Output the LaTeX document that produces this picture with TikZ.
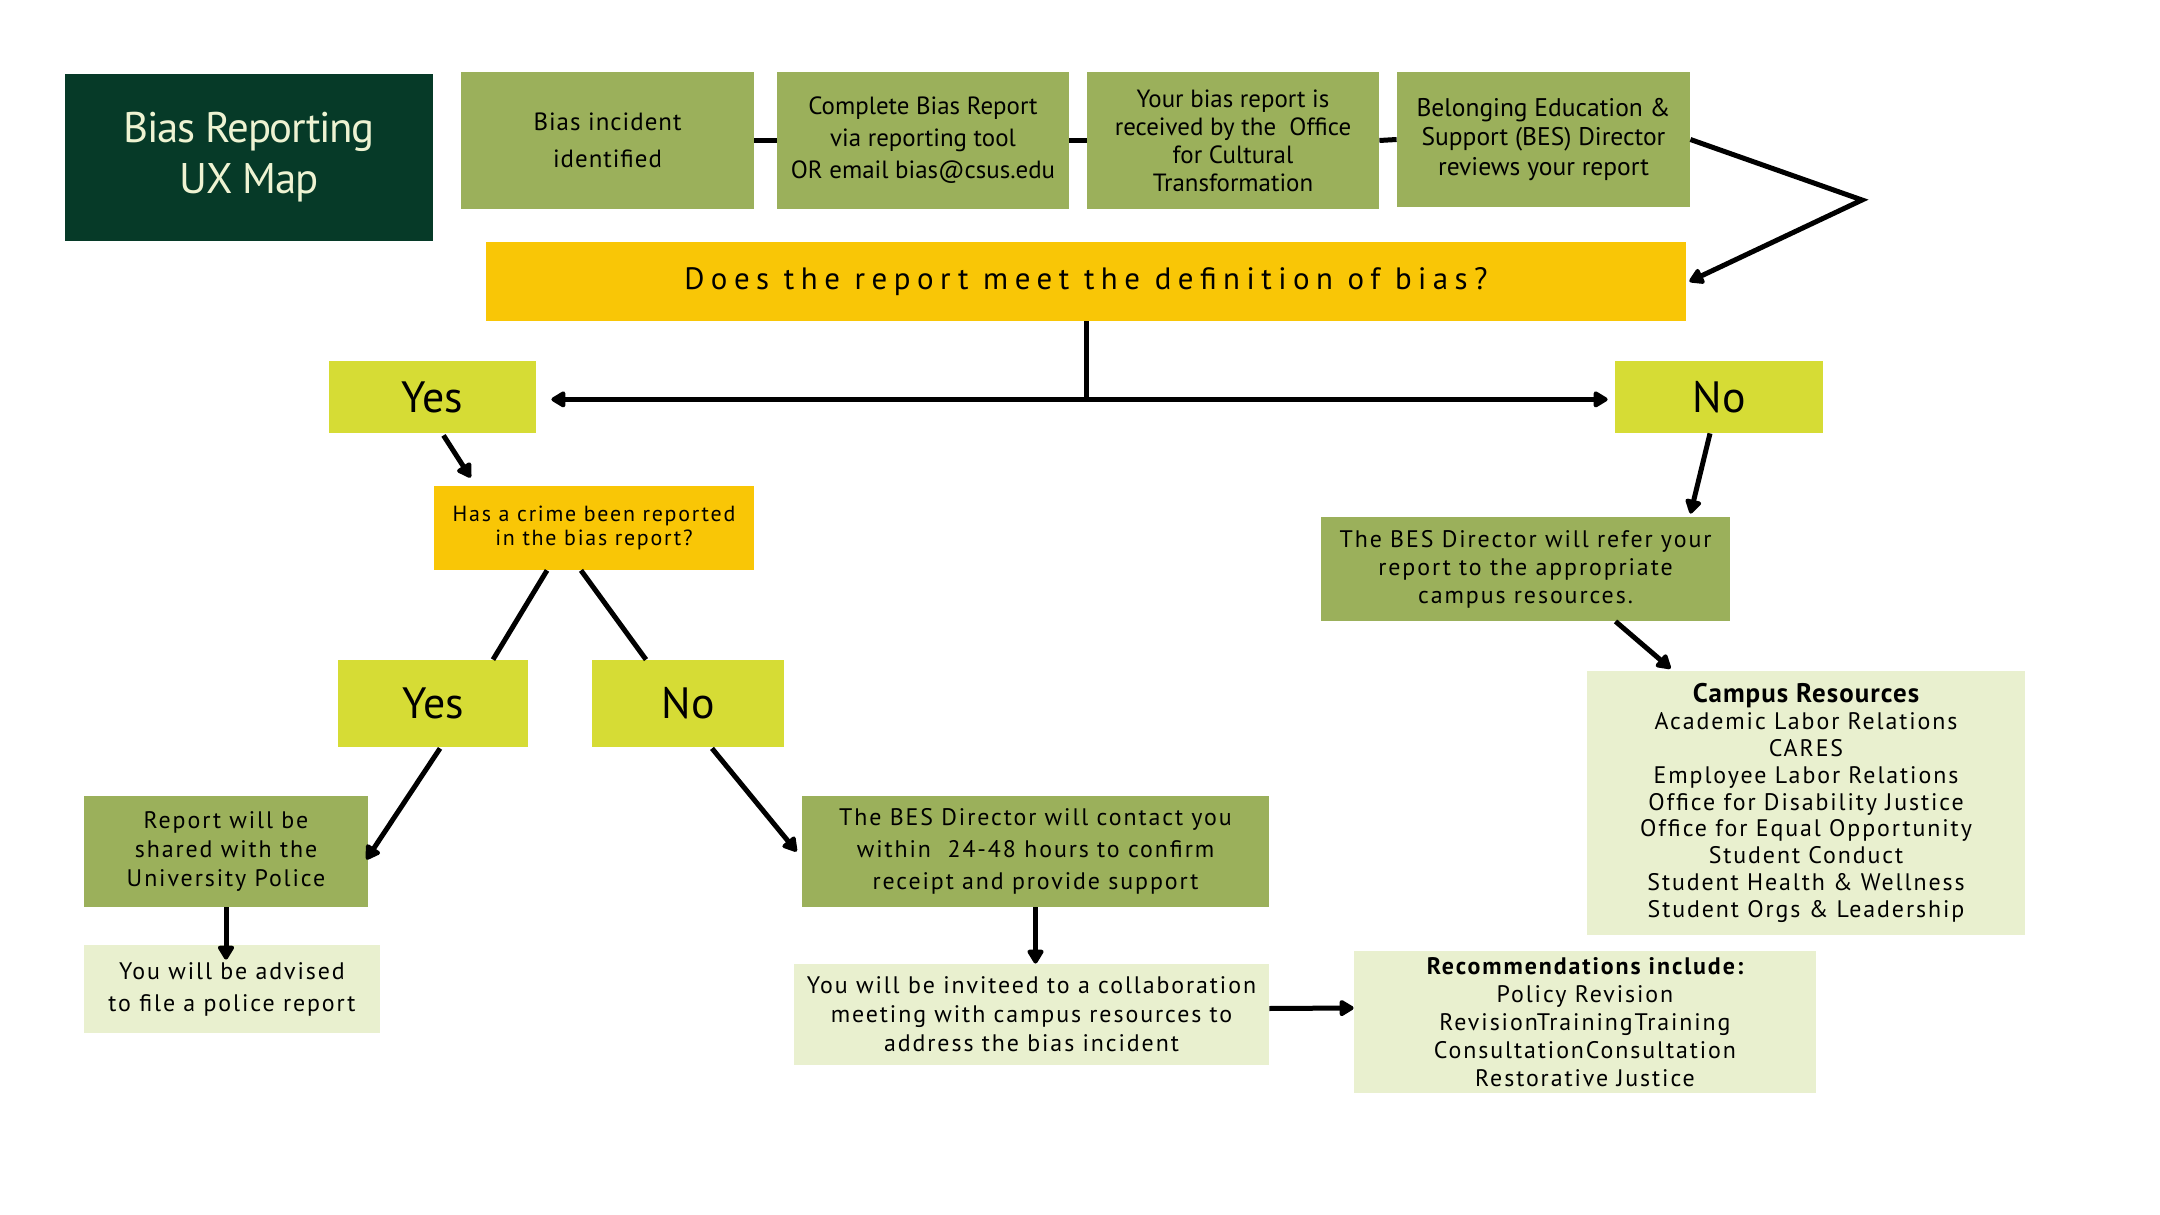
\documentclass[tikz,border=0pt]{standalone}
\usepackage{fontspec}
\setmainfont{PT Sans}
\newfontfamily\fA{PT Sans}
\newfontfamily\fT{PT Sans}[LetterSpace=-3]
\newfontfamily\fB{PT Sans}[LetterSpace=8]
\newfontfamily\fC{PT Sans}[LetterSpace=4]
\newfontfamily\fQ{PT Sans}[LetterSpace=21]
\usetikzlibrary{arrows.meta,calc}
\definecolor{dkgreen}{HTML}{063A28}
\definecolor{olive}{HTML}{9BB05B}
\definecolor{gold}{HTML}{F9C606}
\definecolor{lime}{HTML}{D6DC35}
\definecolor{pale}{HTML}{E9F0CF}
\definecolor{cream}{HTML}{EEF3D2}
\newcommand\bx[7]{\node[#6, minimum width={(#4-#2)*0.5bp}, minimum height={(#5-#3)*0.5bp}] (#1) at ({(#2+#4)/2},{(#3+#5)/2}) {#7};}
\tikzset{
  base/.style={inner sep=0pt, align=center, text=black},
  titlebox/.style={base, fill=dkgreen, text=cream},
  greenbox/.style={base, fill=olive},
  goldbox/.style={base, fill=gold},
  limebox/.style={base, fill=lime, font=\fA\fontsize{22}{24}\selectfont},
  palebox/.style={base, fill=pale},
  small/.style={font=\fB\fontsize{12}{#1}\selectfont},
  conn/.style={line width=2.5bp, black},
  arr/.style={conn, -{Triangle[round, length=8bp, width=9bp]}},
}
\begin{document}
\begin{tikzpicture}[x=0.5bp,y=-0.5bp]
\useasboundingbox (0,0) rectangle (2160,1215);
% title
\bx{title}{65}{74}{433}{241}{titlebox, font=\fT\fontsize{21.5}{25.5}\selectfont}{Bias Reporting\\UX Map}
% top row
\bx{b1}{461}{72}{754}{209}{greenbox, font=\fC\fontsize{12.5}{18.5}\selectfont}{Bias incident\\identified}
\bx{b2}{777}{72}{1069}{209}{greenbox, font=\fA\fontsize{12.5}{16}\selectfont}{Complete Bias Report\\via reporting tool\\OR email bias@csus.edu}
\bx{b3}{1087}{72}{1379}{209}{greenbox, font=\fA\fontsize{12.5}{14}\selectfont}{Your bias report is\\received by the\ \ Office\\for Cultural\\Transformation}
\bx{b4}{1397}{72}{1690}{207}{greenbox, font=\fA\fontsize{12.8}{15}\selectfont}{Belonging Education \&\\Support (BES) Director\\reviews your report}
% question
\bx{bar}{486}{242}{1686}{321}{goldbox, font=\fQ\fontsize{15.5}{17}\selectfont}{Does the report meet the definition of bias?}
\bx{yes}{329}{361}{536}{433}{limebox}{Yes}
\bx{no}{1615}{361}{1823}{433}{limebox}{No}
% crime
\bx{crime}{434}{486}{754}{570}{goldbox, font=\fB\fontsize{11}{12}\selectfont}{Has a crime been reported\\in the bias report?}
\bx{yes2}{338}{660}{528}{747}{limebox}{Yes}
\bx{no2}{592}{660}{784}{747}{limebox}{No}
\bx{police}{84}{796}{368}{907}{greenbox, small=14.5}{Report will be\\shared with the\\University Police}
\bx{advised}{84}{945}{380}{1033}{palebox, small=16}{You will be advised\\to file a police report}
\bx{bes}{802}{796}{1269}{907}{greenbox, small=16}{The BES Director will contact you\\within\ \ 24-48 hours to confirm\\receipt and provide support}
\bx{invited}{794}{964}{1269}{1065}{palebox, small=14.5}{You will be inviteed to a collaboration\\meeting with campus resources to\\address the bias incident}
\bx{reco}{1354}{951}{1816}{1093}{palebox, small=14}{{\bfseries Recommendations include:}\\Policy Revision\\RevisionTrainingTraining\\ConsultationConsultation\\Restorative Justice}
% right branch
\bx{refer}{1321}{517}{1730}{621}{greenbox, small=14}{The BES Director will refer your\\report to the appropriate\\campus resources.}
\bx{campus}{1587}{671}{2025}{935}{palebox, small=13.5}{{\fC\bfseries\fontsize{13.5}{13.5}\selectfont Campus Resources}\\Academic Labor Relations\\CARES\\Employee Labor Relations\\Office for Disability Justice\\Office for Equal Opportunity\\Student Conduct\\Student Health \& Wellness\\Student Orgs \& Leadership}
% connectors
\draw[conn] (b1.east) -- (b2.west);
\draw[conn] (b2.east) -- (b3.west);
\draw[conn] (b3.east) -- (b4.west);
\coordinate (bend) at (1862,200);
\draw[arr, line join=miter] (b4.east) -- (bend) -- ($(bar.east)+(3,0)$);
\coordinate (junc) at ($(bar.south)+(0,78)$);
\draw[conn] (bar.south) -- (junc);
\draw[arr] (junc) -- (junc -| {$(yes.east)+(15,0)$});
\draw[arr] (junc) -- (junc -| {$(no.west)+(-7,0)$});
\draw[arr] ($(yes.south)+(11,2)$) -- ($(crime.north west)+(37,-8)$);
\draw[conn] ($(crime.south)+(-47,0)$) -- ($(yes2.north)+(60,0)$);
\draw[conn] ($(crime.south)+(-13,0)$) -- ($(no2.north)+(-42,0)$);
\draw[arr] ($(yes2.south)+(7,1)$) -- ($(police.east)+(-2,8)$);
\draw[arr] (police.south) -- ($(advised.north -| police.south)+(0,15)$);
\draw[arr] ($(no2.south)+(24,1)$) -- ($(bes.west)+(-5,0)$);
\draw[arr] (bes.south) -- (bes.south |- invited.north);
\draw[arr] ($(invited.east)+(0,-6)$) -- ($(reco.west)+(0,-14)$);
\draw[arr] ($(no.south)+(-9,0)$) -- ($(refer.north)+(165,-3)$);
\draw[arr] ($(refer.south)+(90,0)$) -- ($(campus.north west)+(84,-2)$);
\end{tikzpicture}
\end{document}
